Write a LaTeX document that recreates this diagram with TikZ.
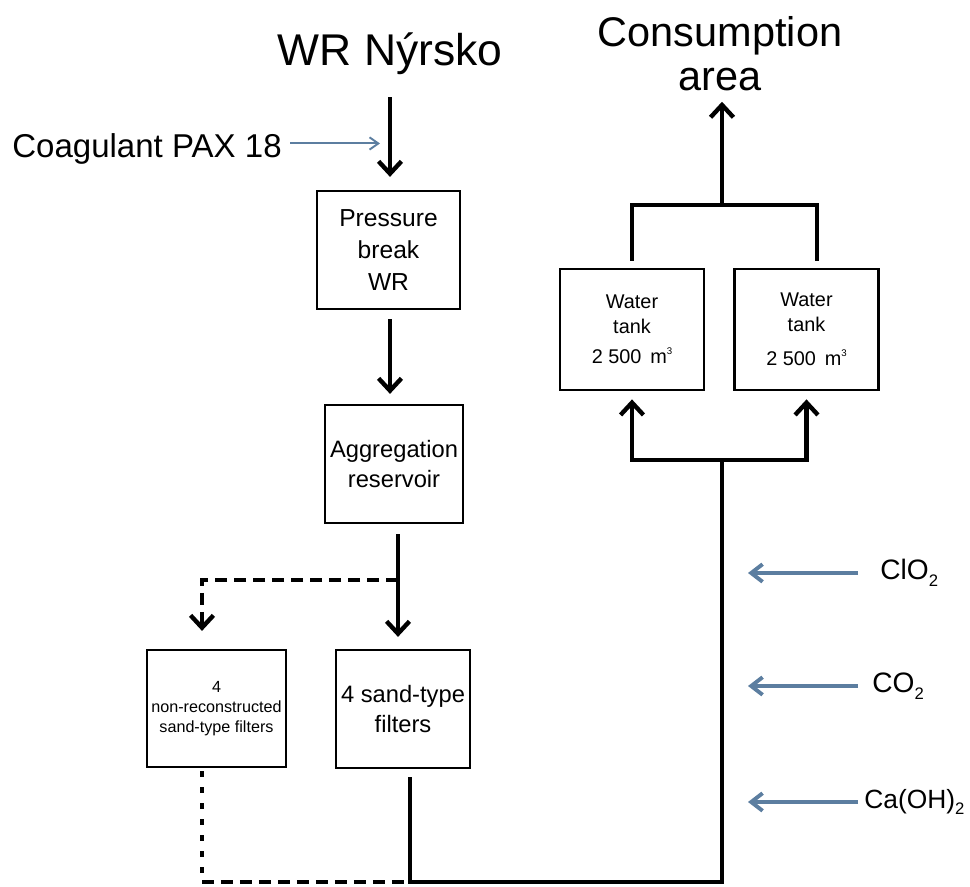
\documentclass[tikz,border=0pt]{standalone}
\usepackage{fontspec}
\setmainfont{Liberation Sans}
\usetikzlibrary{positioning,arrows.meta}
\definecolor{doseblue}{RGB}{92,126,160}
\tikzset{
  unit/.style={rectangle, draw, line width=1.3pt, align=center, inner sep=2pt},
  tank/.style={unit, line width=1.6pt, minimum width=2.88cm, minimum height=2.42cm, font={\fontsize{11.3}{14.2}\selectfont}},
  chem/.style={anchor=west, inner sep=0pt, font={\fontsize{16}{20}\selectfont}},
  pipe/.style={line width=2.5pt},
  tipped/.style={-{Straight Barb[length=7pt,width=13pt]}},
  flow/.style={pipe, tipped},
  bypass/.style={pipe, dash pattern=on 0.24cm off 0.14cm},
  dose/.style={draw=doseblue, line width=2.2pt, -{Straight Barb[length=6.5pt,width=10pt]}},
  paxline/.style={draw=doseblue, line width=1.1pt, -{Straight Barb[length=5pt,width=7pt]}}
}
\newcommand{\cubic}{\raisebox{0.9ex}{\fontsize{5.5}{6}\selectfont 3}}
\newcommand{\sub}[1]{\raisebox{-0.45ex}{\fontsize{9.5}{10}\selectfont #1}}

\begin{document}
\begin{tikzpicture}[x=0.02cm, y=-0.02cm]
  \useasboundingbox (0,0) rectangle (970,886);

  % source and consumer
  \node[anchor=base, inner sep=0pt, font={\fontsize{25.3}{30}\selectfont}] (source) at (390,65) {WR Nýrsko};
  \node[anchor=base, inner sep=0pt, align=center, font={\fontsize{23.6}{25}\selectfont}] (consume) at (720,90) {Consumption\\area};
  \node[anchor=base west, inner sep=0pt, font={\fontsize{18.8}{22}\selectfont}] (coag) at (12,157) {Coagulant PAX 18};

  % treatment units
  \node[unit, minimum width=2.86cm, minimum height=2.36cm, font={\fontsize{14}{18}\selectfont}] (press) at (388.5,250) {Pressure\\break\\WR};
  \node[unit, minimum width=2.76cm, minimum height=2.36cm, font={\fontsize{13.5}{17.6}\selectfont}] (aggr) at (394,464) {Aggregation\\reservoir};
  \node[unit, minimum width=2.78cm, minimum height=2.34cm, font={\fontsize{9.2}{11.2}\selectfont}] (oldfilt) at (216.5,708.5) {4\\non-reconstructed\\sand-type filters};
  \node[unit, minimum width=2.68cm, minimum height=2.36cm, font={\fontsize{13.5}{17}\selectfont}] (sandfilt) at (403,709) {4 sand-type\\filters};
  \node[tank] (tankA) at (632,329.5) {Water\\tank\\[3pt]2 500 \,m\cubic};
  \node[tank] (tankB) at (806.5,329.5) {Water\\tank\\[5pt]2 500 \,m\cubic};

  % dosing
  \node[chem] (clo) at (880,573) {ClO\sub{2}};
  \node[chem] (co) at (872,686) {CO\sub{2}};
  \node[chem, font={\fontsize{15}{18}\selectfont}] (caoh) at (864,802) {Ca(OH)\sub{2}};

  \coordinate (intake) at (390,97);
  \coordinate (split) at (398,580);
  \coordinate (bypassTurn) at (202,580);
  \coordinate (join) at (410,882);
  \coordinate (riser) at (722,882);
  \coordinate (manifold) at (722,460);
  \coordinate (outlet) at (722,205);

  \draw[flow, shorten >=0.26cm] (intake) -- (intake |- press.north);
  \draw[paxline, shorten <=0.16cm, shorten >=0.2cm] ([yshift=0.1cm]coag.east) -- ([yshift=0.1cm]coag.east -| intake);
  \draw[flow, shorten <=0.18cm, shorten >=0.2cm] (press.south -| intake) -- (intake |- aggr.north);
  \draw[flow, shorten <=0.2cm, shorten >=0.24cm] (aggr.south -| split) -- (split |- sandfilt.north);
  \draw[bypass, tipped, shorten >=0.36cm] (split) -- (bypassTurn) -- (bypassTurn |- oldfilt.north);

  \draw[bypass, dash pattern=on 0.12cm off 0.2cm, shorten <=0.06cm] (oldfilt.south -| bypassTurn) -- (bypassTurn |- join);
  \draw[bypass] (bypassTurn |- join) -- (join);
  \draw[pipe, shorten <=0.16cm] (sandfilt.south -| join) -- (join) -- (riser) -- (manifold);
  \draw[flow, shorten >=0.16cm] (manifold) -| (tankA.south);
  \draw[flow, shorten >=0.16cm] (manifold) -| (tankB.south);
  \draw[pipe] ([yshift=0.14cm]tankA.north) |- (outlet) -| ([xshift=0.21cm,yshift=0.14cm]tankB.north);
  \draw[flow, shorten >=0.22cm] (outlet) -- (outlet |- consume.south);

  \draw[dose, shorten <=0.44cm, shorten >=0.52cm] (clo.west) -- (clo.west -| riser);
  \draw[dose, shorten <=0.28cm, shorten >=0.52cm] (co.west) -- (co.west -| riser);
  \draw[dose, shorten <=0.12cm, shorten >=0.52cm] (caoh.west) -- (caoh.west -| riser);
\end{tikzpicture}
\end{document}
